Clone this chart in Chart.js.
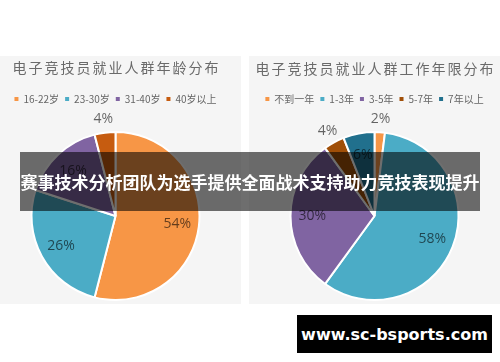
<!DOCTYPE html>
<html><head><meta charset="utf-8">
<script src="https://cdn.jsdelivr.net/npm/chart.js@4.4.1/dist/chart.umd.min.js"></script>
<style>
html,body{margin:0;padding:0;background:#fff;width:500px;height:362px;overflow:hidden;position:relative;font-family:"Noto Sans CJK SC",sans-serif;}
.panel{position:absolute;top:56px;height:248px;width:251px;background:#f5f5f5;}
#p1{left:-10px;}
#p2{left:249px;}
.cw{position:absolute;top:56px;width:251px;height:262px;}
#c1w{left:-10px;} #c2w{left:249px;}
#banner{position:absolute;left:20px;top:152px;width:460px;height:59px;background:rgba(0,0,0,0.57);color:#fff;font:bold 17px "Noto Sans CJK SC";display:flex;align-items:center;justify-content:center;white-space:nowrap;}
#wm{position:absolute;left:297px;top:315px;width:195px;height:38px;background:#000;color:#fff;font:bold 16px "DejaVu Sans";display:flex;align-items:center;justify-content:center;white-space:nowrap;}
</style></head>
<body>
<div class="panel" id="p1"></div>
<div class="panel" id="p2"></div>
<div class="cw" id="c1w"><canvas id="c1" width="251" height="262"></canvas></div>
<div class="cw" id="c2w"><canvas id="c2" width="251" height="262"></canvas></div>
<div id="banner">赛事技术分析团队为选手提供全面战术支持助力竞技表现提升</div>
<div id="wm">www.sc-bsports.com</div>
<script>
const ageTitle = '电子竞技员就业人群年龄分布';
const ageLabels = ['16-22岁', '23-30岁', '31-40岁', '40岁以上'];
const ageValues = [54, 26, 16, 4];
const ageColors = ['#f79646', '#4bacc6', '#8064a2', '#c65c10'];

const tenureTitle = '电子竞技员就业人群工作年限分布';
const tenureLabels = ['不到一年', '1-3年', '3-5年', '5-7年', '7年以上'];
const tenureValues = [2, 58, 30, 4, 6];
const tenureColors = ['#f79646', '#4bacc6', '#8064a2', '#a04f08', '#21708d'];

const pctPlugin = {
  id: 'pct',
  afterDatasetsDraw(chart) {
    const ctx = chart.ctx;
    const meta = chart.getDatasetMeta(0);
    const vals = chart.data.datasets[0].data;
    ctx.save();
    ctx.font = '14px "Open Sans", "Noto Sans", sans-serif';
    ctx.fillStyle = 'rgba(0,0,0,0.6)';
    ctx.textAlign = 'center';
    ctx.textBaseline = 'middle';
    meta.data.forEach((arc, i) => {
      const p = arc.getProps(['x', 'y', 'startAngle', 'endAngle', 'outerRadius'], true);
      const mid = (p.startAngle + p.endAngle) / 2;
      const f = vals[i] < 5 ? 1.16 : 0.74;
      ctx.fillText(vals[i] + '%', p.x + Math.cos(mid) * p.outerRadius * f, p.y + Math.sin(mid) * p.outerRadius * f);
    });
    ctx.restore();
  }
};

const titlePlugin = {
  id: 'ttl',
  afterDraw(chart, args, opts) {
    const ctx = chart.ctx;
    ctx.save();
    ctx.font = '14px "Noto Sans CJK SC"';
    ctx.letterSpacing = '2px';
    ctx.fillStyle = '#6a6a6a';
    ctx.textAlign = 'center';
    ctx.textBaseline = 'middle';
    ctx.fillText(opts.text, chart.width / 2 + 1, opts.y);
    ctx.restore();
  }
};

function makePie(id, title, titleY, labels, values, colors) {
  return new Chart(document.getElementById(id), {
    type: 'pie',
    data: {
      labels: labels,
      datasets: [{
        data: values,
        backgroundColor: colors,
        borderColor: '#ffffff',
        borderWidth: 2,
        radius: 84
      }]
    },
    plugins: [pctPlugin, titlePlugin],
    options: {
      responsive: false,
      animation: false,
      events: [],
      layout: { padding: { top: 32, left: 0, right: 0, bottom: 0 } },
      plugins: {
        ttl: { text: title, y: titleY },
        tooltip: { enabled: false },
        legend: {
          position: 'top',
          labels: {
            usePointStyle: true,
            pointStyle: 'rect',
            boxWidth: 4,
            boxHeight: 4,
            padding: 6,
            color: '#666',
            font: { size: 10, family: '"Noto Sans CJK SC"' },
            generateLabels(chart) {
              return Chart.overrides.doughnut.plugins.legend.labels.generateLabels(chart)
                .map(l => Object.assign({}, l, { lineWidth: 0, strokeStyle: 'rgba(0,0,0,0)' }));
            }
          }
        }
      }
    }
  });
}

makePie('c1', ageTitle, 12, ageLabels, ageValues, ageColors);
makePie('c2', tenureTitle, 13, tenureLabels, tenureValues, tenureColors);
</script>
</body></html>
